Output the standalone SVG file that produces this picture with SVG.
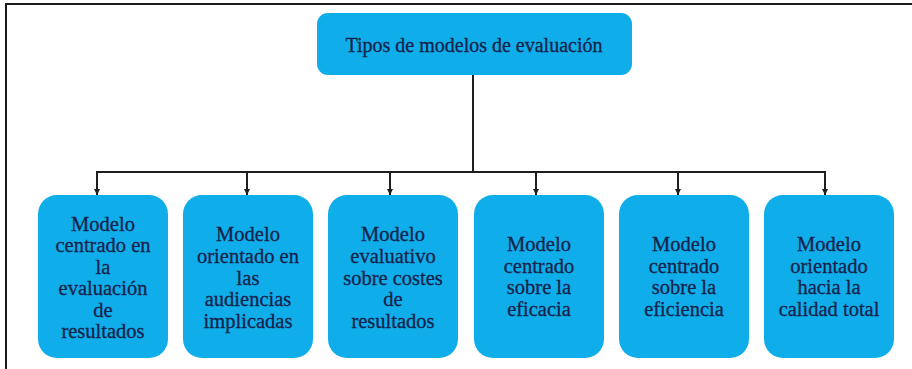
<svg xmlns="http://www.w3.org/2000/svg" width="912" height="369" viewBox="0 0 912 369">
<defs>
<style>
.box{fill:#0fadea;}
.t{font-family:'Liberation Serif','DejaVu Serif','Times New Roman',serif;font-size:20.5px;fill:#14234a;text-anchor:middle;stroke:#14234a;stroke-width:0.3;}
.c{stroke:#1e1e1e;stroke-width:2;fill:none;}
</style>
<marker id="ah" viewBox="0 0 10 10" refX="10" refY="5" markerWidth="6" markerHeight="6" markerUnits="userSpaceOnUse" orient="auto"><path d="M0,0 L10,5 L0,10 z" fill="#1e1e1e"/></marker>
</defs>
<rect width="912" height="369" fill="#ffffff"/>
<rect x="6" y="4" width="940" height="420" fill="none" stroke="#1a1a1a" stroke-width="2"/>
<g id="connectors">
<path class="c" d="M473,75 V172"/>
<path class="c" d="M97,172 H825"/>
<path class="c" d="M97,171 V195" marker-end="url(#ah)"/>
<path class="c" d="M247,172 V195" marker-end="url(#ah)"/>
<path class="c" d="M390,172 V195" marker-end="url(#ah)"/>
<path class="c" d="M536,172 V195" marker-end="url(#ah)"/>
<path class="c" d="M678,172 V195" marker-end="url(#ah)"/>
<path class="c" d="M825,171 V195" marker-end="url(#ah)"/>
</g>
<g id="root">
<rect class="box" x="317" y="13" width="315" height="62" rx="11"/>
<text class="t" x="474" y="52" style="font-size:20px">Tipos de modelos de evaluación</text>
</g>
<g id="n1">
<rect class="box" x="38" y="195" width="130" height="163" rx="19"/>
<text class="t" x="103" y="231">Modelo</text>
<text class="t" x="103" y="252">centrado en</text>
<text class="t" x="103" y="274">la</text>
<text class="t" x="103" y="295">evaluación</text>
<text class="t" x="103" y="317">de</text>
<text class="t" x="103" y="338">resultados</text>
</g>
<g id="n2">
<rect class="box" x="183" y="195" width="130" height="163" rx="19"/>
<text class="t" x="248" y="241">Modelo</text>
<text class="t" x="248" y="263">orientado en</text>
<text class="t" x="248" y="285">las</text>
<text class="t" x="248" y="306">audiencias</text>
<text class="t" x="248" y="328">implicadas</text>
</g>
<g id="n3">
<rect class="box" x="328" y="195" width="130" height="163" rx="19"/>
<text class="t" x="393" y="241">Modelo</text>
<text class="t" x="393" y="263">evaluativo</text>
<text class="t" x="393" y="285">sobre costes</text>
<text class="t" x="393" y="306">de</text>
<text class="t" x="393" y="328">resultados</text>
</g>
<g id="n4">
<rect class="box" x="474" y="195" width="130" height="163" rx="19"/>
<text class="t" x="539" y="251">Modelo</text>
<text class="t" x="539" y="273">centrado</text>
<text class="t" x="539" y="294">sobre la</text>
<text class="t" x="539" y="316">eficacia</text>
</g>
<g id="n5">
<rect class="box" x="619" y="195" width="130" height="163" rx="19"/>
<text class="t" x="684" y="251">Modelo</text>
<text class="t" x="684" y="273">centrado</text>
<text class="t" x="684" y="294">sobre la</text>
<text class="t" x="684" y="316">eficiencia</text>
</g>
<g id="n6">
<rect class="box" x="764" y="195" width="130" height="163" rx="19"/>
<text class="t" x="829" y="251">Modelo</text>
<text class="t" x="829" y="273">orientado</text>
<text class="t" x="829" y="294">hacia la</text>
<text class="t" x="829" y="316">calidad total</text>
</g>
</svg>
